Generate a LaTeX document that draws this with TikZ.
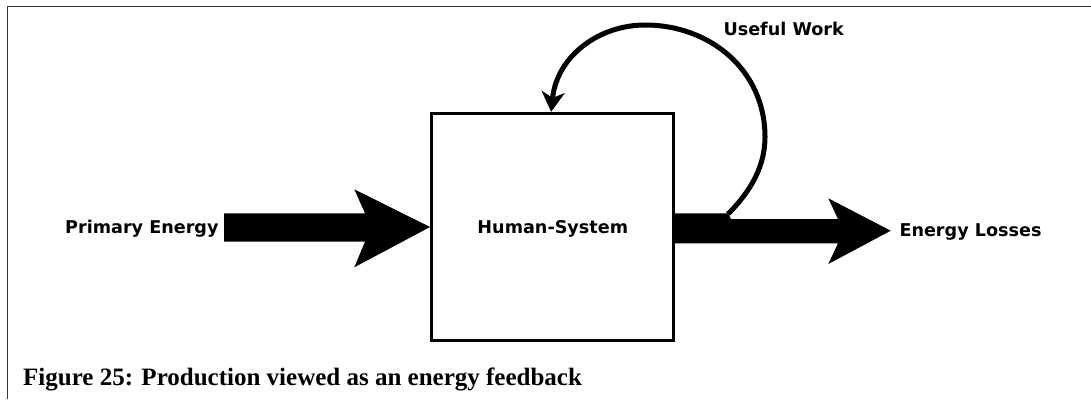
\documentclass[tikz,border=0pt]{standalone}
\usepackage{fontspec}
\setmainfont{Liberation Serif}
\newfontfamily\dvs{DejaVu Sans}
\usetikzlibrary{arrows.meta,calc}
\begin{document}
\begin{tikzpicture}[x=1pt,y=-1pt,
  lbl/.style={font=\dvs\bfseries\fontsize{17.6}{20}\selectfont, inner sep=0pt, anchor=base west},
  captext/.style={font=\rmfamily\bfseries\fontsize{25}{30}\selectfont, inner sep=0pt, anchor=base west},
  sysbox/.style={draw, line width=2.8pt, minimum width=242pt, minimum height=227.4pt, inner sep=0pt},
  bigarrow/.style={fill=black},
  loopline/.style={line width=5pt, -{Stealth[length=20pt,width=23pt,inset=6pt]}},
  framel/.style={draw=black!80, line width=1.3pt}]
\useasboundingbox (0,0) rectangle (1091,399);
% frame
\draw[framel] (7.5,399) -- (7.5,6.7) -- (1091,6.7);
% system box
\node[sysbox] (sys) at (552.5,227) {};
\node[lbl, anchor=base] (hs) at (552.8,233.3) {Human-System};
% labels
\node[lbl] (pe) at (65,233.5) {Primary Energy};
\node[lbl] (el) at (899.3,236.7) {Energy Losses};
\node[lbl] (uw) at (723.3,35) {Useful Work};
% input arrow
\fill[bigarrow] (224,213.3) -- (365,213.3) -- (354.3,189.3) -- (sys.west) -- (354.3,267.3) -- (365,241.7) -- (224,241.7) -- cycle;
% output arrow
\fill[bigarrow] (sys.east |- 0,213.3) -- (728,213.3) -- (731,219) -- (838,219) -- (828.3,198.3) -- (890.7,230.7) -- (828.3,264) -- (838,243.3) -- (sys.east |- 0,243.3) -- cycle;
% feedback loop
\coordinate (uwS) at (728,214);
\coordinate (uwE) at ($(sys.north west)+(121,0)$);
\draw[loopline] (uwS) .. controls (752,190) and (765,165) .. (765,137)
  .. controls (765,70) and (710,25) .. (645,25)
  .. controls (600,25) and (557,55) .. (uwE);
% caption
\node[captext] (fig) at (23,385.5) {Figure 25: Production viewed as an energy feedback};
\end{tikzpicture}
\end{document}
